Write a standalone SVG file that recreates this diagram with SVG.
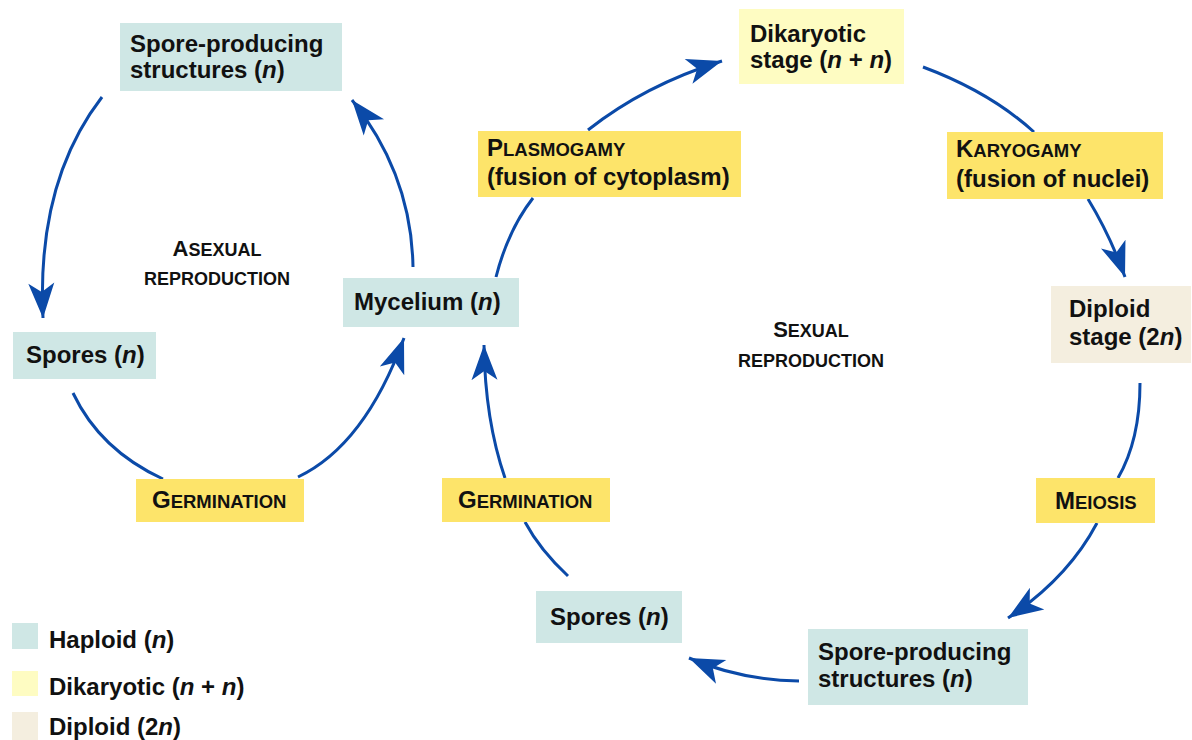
<svg xmlns="http://www.w3.org/2000/svg" width="1192" height="740" viewBox="0 0 1192 740">
<style>
text{font-family:"Liberation Sans",Arial,Helvetica,sans-serif;font-weight:bold;fill:#111;font-size:24px}
.hap{fill:#cfe7e5}
.dik{fill:#fefcc2}
.dip{fill:#f4eedf}
.lab{fill:#fde46a}
.i{font-style:italic}
.sc{font-size:18.5px}
.big{font-size:24px}
.tsc{font-size:18px}
.tbig{font-size:22px}
.arr{fill:none;stroke:#0b4aa8;stroke-width:3}
</style>
<defs>
<marker id="ah" markerUnits="userSpaceOnUse" viewBox="-36 -14 37 28" markerWidth="37" markerHeight="28" refX="0" refY="0" orient="auto">
<path d="M0,0 L-35,-13 L-26,0 L-35,13 Z" fill="#0b4aa8"/>
</marker>
</defs>
<rect width="1192" height="740" fill="#fff"/>

<g id="connectors">
<path class="arr" d="M102,97 C65,145 38,215 43,318" marker-end="url(#ah)"/>
<path class="arr" d="M413,267 C412,205 392,150 352,100" marker-end="url(#ah)"/>
<path class="arr" d="M73,393 Q100,450 163,479"/>
<path class="arr" d="M298,477 Q365,445 404,338" marker-end="url(#ah)"/>
<path class="arr" d="M496,277 Q508,230 533,198"/>
<path class="arr" d="M588,130 Q645,85 722,61" marker-end="url(#ah)"/>
<path class="arr" d="M923,67 Q990,92 1034,132"/>
<path class="arr" d="M1088,199 Q1110,235 1125,277" marker-end="url(#ah)"/>
<path class="arr" d="M1140,383 Q1140,440 1118,478"/>
<path class="arr" d="M1097,523 Q1068,578 1008,618" marker-end="url(#ah)"/>
<path class="arr" d="M799,681 Q740,680 689,658" marker-end="url(#ah)"/>
<path class="arr" d="M568,576 Q540,550 525,522"/>
<path class="arr" d="M505,478 Q485,420 484,345" marker-end="url(#ah)"/>
</g>

<g id="spore-producing-top">
<rect class="hap" x="120" y="23" width="222" height="68"/>
<text x="130" y="52">Spore-producing</text>
<text x="130" y="78">structures (<tspan class="i">n</tspan>)</text>
</g>
<g id="spores-left">
<rect class="hap" x="13" y="332" width="143" height="47"/>
<text x="26" y="363">Spores (<tspan class="i">n</tspan>)</text>
</g>
<g id="mycelium">
<rect class="hap" x="343" y="278" width="176" height="49"/>
<text x="354" y="310">Mycelium (<tspan class="i">n</tspan>)</text>
</g>
<g id="asexual-title">
<text x="217" y="256" text-anchor="middle"><tspan class="tbig">A</tspan><tspan class="tsc">SEXUAL</tspan></text>
<text x="217" y="285" text-anchor="middle" class="tsc">REPRODUCTION</text>
</g>
<g id="germination-left">
<rect class="lab" x="136" y="479" width="168" height="43"/>
<text x="152" y="508"><tspan class="big">G</tspan><tspan class="sc">ERMINATION</tspan></text>
</g>
<g id="plasmogamy">
<rect class="lab" x="478" y="131" width="263" height="66"/>
<text x="487" y="156"><tspan class="big">P</tspan><tspan class="sc">LASMOGAMY</tspan></text>
<text x="487" y="185">(fusion of cytoplasm)</text>
</g>
<g id="dikaryotic">
<rect class="dik" x="739" y="9" width="165" height="75"/>
<text x="750" y="42">Dikaryotic</text>
<text x="750" y="68">stage (<tspan class="i">n</tspan> + <tspan class="i">n</tspan>)</text>
</g>
<g id="karyogamy">
<rect class="lab" x="947" y="132" width="216" height="67"/>
<text x="956" y="157"><tspan class="big">K</tspan><tspan class="sc">ARYOGAMY</tspan></text>
<text x="956" y="187">(fusion of nuclei)</text>
</g>
<g id="diploid">
<rect class="dip" x="1051" y="286" width="140" height="77"/>
<text x="1069" y="317">Diploid</text>
<text x="1069" y="345">stage (2<tspan class="i">n</tspan>)</text>
</g>
<g id="sexual-title">
<text x="811" y="337" text-anchor="middle"><tspan class="tbig">S</tspan><tspan class="tsc">EXUAL</tspan></text>
<text x="811" y="367" text-anchor="middle" class="tsc">REPRODUCTION</text>
</g>
<g id="meiosis">
<rect class="lab" x="1036" y="478" width="119" height="45"/>
<text x="1055" y="509"><tspan class="big">M</tspan><tspan class="sc">EIOSIS</tspan></text>
</g>
<g id="spore-producing-bottom">
<rect class="hap" x="808" y="629" width="220" height="76"/>
<text x="818" y="660">Spore-producing</text>
<text x="818" y="687">structures (<tspan class="i">n</tspan>)</text>
</g>
<g id="spores-bottom">
<rect class="hap" x="536" y="591" width="146" height="52"/>
<text x="550" y="625">Spores (<tspan class="i">n</tspan>)</text>
</g>
<g id="germination-right">
<rect class="lab" x="442" y="478" width="168" height="44"/>
<text x="458" y="508"><tspan class="big">G</tspan><tspan class="sc">ERMINATION</tspan></text>
</g>
<g id="legend">
<rect class="hap" x="12" y="623" width="26" height="26"/>
<text x="49" y="648">Haploid (<tspan class="i">n</tspan>)</text>
<rect class="dik" x="12" y="671" width="26" height="25"/>
<text x="49" y="695">Dikaryotic (<tspan class="i">n</tspan> + <tspan class="i">n</tspan>)</text>
<rect class="dip" x="12" y="712" width="26" height="28"/>
<text x="49" y="735">Diploid (2<tspan class="i">n</tspan>)</text>
</g>
</svg>
